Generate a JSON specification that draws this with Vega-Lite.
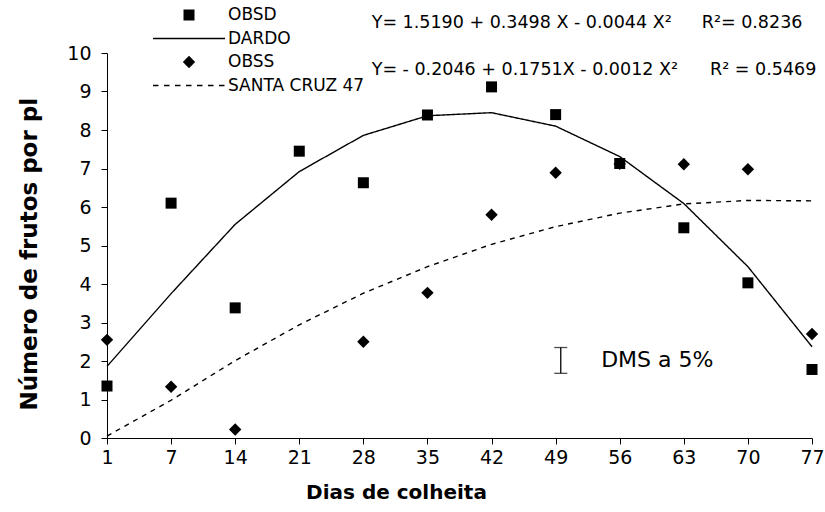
{
  "$schema": "https://vega.github.io/schema/vega-lite/v6.json",
  "width": 705,
  "height": 385,
  "autosize": {"type": "none"},
  "padding": {"left": 107, "top": 53, "right": 13, "bottom": 74},
  "background": "white",
  "config": {
    "view": {"stroke": null},
    "font": "DejaVu Sans",
    "axis": {"domainColor": "#000", "tickColor": "#000", "labelColor": "#000", "titleColor": "#000", "grid": false, "labelFont": "DejaVu Sans", "titleFont": "DejaVu Sans", "domainWidth": 1, "tickWidth": 1}
  },
  "datasets": {
    "curves": [
      {"pos": 0, "serie": "DARDO", "v": 1.86},
      {"pos": 1, "serie": "DARDO", "v": 3.75},
      {"pos": 2, "serie": "DARDO", "v": 5.55},
      {"pos": 3, "serie": "DARDO", "v": 6.92},
      {"pos": 4, "serie": "DARDO", "v": 7.86},
      {"pos": 5, "serie": "DARDO", "v": 8.37},
      {"pos": 6, "serie": "DARDO", "v": 8.45},
      {"pos": 7, "serie": "DARDO", "v": 8.10},
      {"pos": 8, "serie": "DARDO", "v": 7.31},
      {"pos": 9, "serie": "DARDO", "v": 6.09},
      {"pos": 10, "serie": "DARDO", "v": 4.45},
      {"pos": 11, "serie": "DARDO", "v": 2.37},
      {"pos": 0, "serie": "SANTA CRUZ 47", "v": 0.05},
      {"pos": 1, "serie": "SANTA CRUZ 47", "v": 0.98},
      {"pos": 2, "serie": "SANTA CRUZ 47", "v": 2.01},
      {"pos": 3, "serie": "SANTA CRUZ 47", "v": 2.94},
      {"pos": 4, "serie": "SANTA CRUZ 47", "v": 3.76},
      {"pos": 5, "serie": "SANTA CRUZ 47", "v": 4.45},
      {"pos": 6, "serie": "SANTA CRUZ 47", "v": 5.03},
      {"pos": 7, "serie": "SANTA CRUZ 47", "v": 5.49},
      {"pos": 8, "serie": "SANTA CRUZ 47", "v": 5.84},
      {"pos": 9, "serie": "SANTA CRUZ 47", "v": 6.08},
      {"pos": 10, "serie": "SANTA CRUZ 47", "v": 6.17},
      {"pos": 11, "serie": "SANTA CRUZ 47", "v": 6.16}
    ],
    "obs": [
      {"pos": 0, "serie": "OBSD", "v": 1.35},
      {"pos": 1, "serie": "OBSD", "v": 6.10},
      {"pos": 2, "serie": "OBSD", "v": 3.38},
      {"pos": 3, "serie": "OBSD", "v": 7.45},
      {"pos": 4, "serie": "OBSD", "v": 6.63},
      {"pos": 5, "serie": "OBSD", "v": 8.39},
      {"pos": 6, "serie": "OBSD", "v": 9.12},
      {"pos": 7, "serie": "OBSD", "v": 8.40},
      {"pos": 8, "serie": "OBSD", "v": 7.13},
      {"pos": 9, "serie": "OBSD", "v": 5.46},
      {"pos": 10, "serie": "OBSD", "v": 4.03},
      {"pos": 11, "serie": "OBSD", "v": 1.78},
      {"pos": 0, "serie": "OBSS", "v": 2.55},
      {"pos": 1, "serie": "OBSS", "v": 1.33},
      {"pos": 2, "serie": "OBSS", "v": 0.22},
      {"pos": 4, "serie": "OBSS", "v": 2.50},
      {"pos": 5, "serie": "OBSS", "v": 3.77},
      {"pos": 6, "serie": "OBSS", "v": 5.80},
      {"pos": 7, "serie": "OBSS", "v": 6.89},
      {"pos": 8, "serie": "OBSS", "v": 7.12},
      {"pos": 9, "serie": "OBSS", "v": 7.11},
      {"pos": 10, "serie": "OBSS", "v": 6.98},
      {"pos": 11, "serie": "OBSS", "v": 2.70}
    ],
    "notes": [
      {"pos": 4.13, "v": 10.78, "txt": "Y= 1.5190 + 0.3498 X - 0.0044 X²"},
      {"pos": 9.28, "v": 10.78, "txt": "R²= 0.8236"},
      {"pos": 4.13, "v": 9.56, "txt": "Y= - 0.2046 + 0.1751X - 0.0012 X²"},
      {"pos": 9.41, "v": 9.56, "txt": "R² = 0.5469"}
    ],
    "dms": [
      {"pos": 7.08, "v": 1.68, "hi": 2.35}
    ],
    "dmslabel": [
      {"pos": 7.71, "v": 2.03, "txt": "DMS a 5%"}
    ]
  },
  "encoding": {
    "x": {
      "field": "pos", "type": "quantitative",
      "scale": {"domain": [0, 11], "nice": false, "zero": false},
      "axis": {
        "values": [0, 1, 2, 3, 4, 5, 6, 7, 8, 9, 10, 11],
        "labelExpr": "datum.value == 0 ? '1' : '' + (datum.value * 7)",
        "title": "Dias de colheita",
        "titleFontSize": 20, "titleFontWeight": "bold",
        "titleX": 289, "titleY": 54, "titleAlign": "center", "titleBaseline": "middle",
        "labelFontSize": 19, "tickSize": 6, "labelPadding": 4,
        "labelFlush": false, "labelOverlap": false
      }
    },
    "y": {
      "field": "v", "type": "quantitative",
      "scale": {"domain": [0, 10], "nice": false, "zero": false},
      "axis": {
        "values": [0, 1, 2, 3, 4, 5, 6, 7, 8, 9, 10],
        "title": "Número de frutos por pl",
        "titleFontSize": 23, "titleFontWeight": "bold",
        "titleAngle": 270, "titleX": -78, "titleY": 357, "titleAlign": "left", "titleBaseline": "middle",
        "labelFontSize": 19, "tickSize": 6, "labelPadding": 10,
        "labelFlush": false, "labelOverlap": false
      }
    }
  },
  "layer": [
    {
      "data": {"name": "curves"},
      "mark": {"type": "line", "color": "black", "strokeWidth": 1.4},
      "encoding": {
        "strokeDash": {
          "field": "serie", "type": "nominal",
          "scale": {"domain": ["DARDO", "SANTA CRUZ 47"], "range": [[1, 0], [5, 5]]},
          "legend": null
        }
      }
    },
    {
      "data": {"name": "obs"},
      "mark": {"type": "point", "filled": true, "color": "black", "size": 400, "opacity": 1},
      "encoding": {
        "shape": {
          "field": "serie", "type": "nominal",
          "scale": {
            "domain": ["OBSD", "DARDO", "OBSS", "SANTA CRUZ 47"],
            "range": [
              "M-0.55,-0.55H0.55V0.55H-0.55Z",
              "M-3.6,-0.07H3.6V0.07H-3.6Z",
              "M0,-0.62L0.62,0L0,0.62L-0.62,0Z",
              "M-3.6,-0.07H-3.05V0.07H-3.6ZM-2.5,-0.07H-1.95V0.07H-2.5ZM-1.4,-0.07H-0.85V0.07H-1.4ZM-0.3,-0.07H0.25V0.07H-0.3ZM0.8,-0.07H1.35V0.07H0.8ZM1.9,-0.07H2.45V0.07H1.9ZM3,-0.07H3.55V0.07H3Z"
            ]
          },
          "legend": {
            "orient": "none", "legendX": 72, "legendY": -48, "title": null,
            "labelFontSize": 17, "labelFont": "DejaVu Sans", "labelColor": "black",
            "symbolSize": 400, "symbolFillColor": "black", "symbolStrokeColor": "black", "symbolStrokeWidth": 0,
            "labelOffset": 29, "symbolOffset": 0, "rowPadding": 5.5, "padding": 0, "symbolOpacity": 1
          }
        }
      }
    },
    {
      "data": {"name": "notes"},
      "mark": {"type": "text", "align": "left", "baseline": "middle", "fontSize": 17.5, "font": "DejaVu Sans", "color": "black"},
      "encoding": {
        "text": {"field": "txt"}
      }
    },
    {
      "data": {"name": "dms"},
      "mark": {"type": "errorbar", "ticks": {"size": 13, "thickness": 1.3, "color": "black"}, "rule": {"strokeWidth": 1.3, "color": "black"}},
      "encoding": {
        "y2": {"field": "hi"}
      }
    },
    {
      "data": {"name": "dmslabel"},
      "mark": {"type": "text", "align": "left", "baseline": "middle", "fontSize": 22, "font": "DejaVu Sans", "color": "black"},
      "encoding": {
        "text": {"field": "txt"}
      }
    }
  ]
}
